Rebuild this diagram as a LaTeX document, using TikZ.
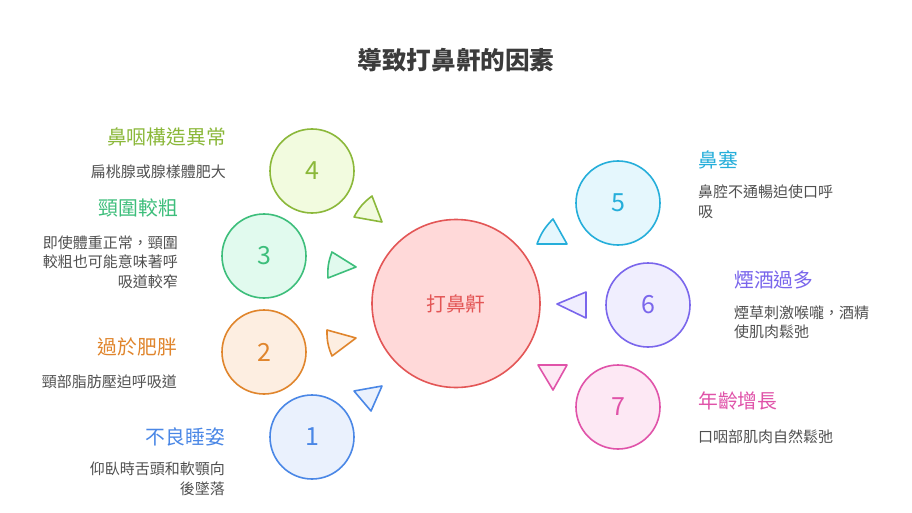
\documentclass[tikz,border=0pt]{standalone}
\usepackage{fontspec}
\setmainfont{Noto Sans CJK TC}
\usepackage{xcolor}
\definecolor{ink}{HTML}{3B3B3B}
\definecolor{textgray}{HTML}{505050}
\definecolor{hubline}{HTML}{E35656}
\definecolor{hubbg}{HTML}{FFD9D9}
\definecolor{blueline}{HTML}{4A87E6}
\definecolor{bluebg}{HTML}{EAF1FD}
\definecolor{orangeline}{HTML}{E0852C}
\definecolor{orangebg}{HTML}{FDEEE1}
\definecolor{greenline}{HTML}{3DBE7B}
\definecolor{greenbg}{HTML}{E1FAEE}
\definecolor{limeline}{HTML}{8BB83A}
\definecolor{limebg}{HTML}{F2FBDF}
\definecolor{cyanline}{HTML}{25AEDA}
\definecolor{cyanbg}{HTML}{E5F7FD}
\definecolor{purpleline}{HTML}{7A66EC}
\definecolor{purplebg}{HTML}{F0EEFE}
\definecolor{pinkline}{HTML}{E053A9}
\definecolor{pinkbg}{HTML}{FDE8F4}
\tikzset{
  ball/.style={circle, inner sep=0pt, minimum size=84pt, line width=1.6pt,
    font=\fontsize{25}{25}\selectfont},
  head/.style={font=\fontsize{19.8}{22}\selectfont, inner sep=0pt},
  desc/.style={font=\fontsize{15}{19.5}\selectfont, text=textgray, inner sep=0pt},
  tri/.style={line width=1.6pt, line join=round}
}
\begin{document}
\begin{tikzpicture}[x=1pt,y=-1pt]
  \fill[white] (0,0) rectangle (912,513);
  \useasboundingbox (0,0) rectangle (912,513);
  \node[font=\bfseries\fontsize{24.6}{25}\selectfont, text=ink] (title) at (456,60) {導致打鼻鼾的因素};

  \node[circle, inner sep=0pt, minimum size=168pt, line width=1.6pt, draw=hubline, fill=hubbg,
    text=hubline, font=\fontsize{19.8}{20}\selectfont] (hub) at (456,303.5) {打鼻鼾};

  \node[ball, draw=limeline, fill=limebg, text=limeline] (c4) at (312,171) {4};
  \node[ball, draw=greenline, fill=greenbg, text=greenline] (c3) at (264,256) {3};
  \node[ball, draw=orangeline, fill=orangebg, text=orangeline] (c2) at (264,352) {2};
  \node[ball, draw=blueline, fill=bluebg, text=blueline] (c1) at (312,437) {1};
  \node[ball, draw=cyanline, fill=cyanbg, text=cyanline] (c5) at (618,203) {5};
  \node[ball, draw=purpleline, fill=purplebg, text=purpleline] (c6) at (648,305) {6};
  \node[ball, draw=pinkline, fill=pinkbg, text=pinkline] (c7) at (618,407) {7};

  \draw[tri, draw=limeline, fill=limebg] (372,196) to[bend right=12] (354,217) -- (382,222) -- cycle;
  \draw[tri, draw=greenline, fill=greenbg] (332,252) -- (356,267) -- (328,278) to[bend left=12] cycle;
  \draw[tri, draw=orangeline, fill=orangebg] (327,330) -- (356,338) -- (332,356) to[bend left=12] cycle;
  \draw[tri, draw=blueline, fill=bluebg] (354,391) -- (382,386) -- (371,411) -- cycle;
  \draw[tri, draw=cyanline, fill=cyanbg] (553,219) -- (567,244) -- (537,244) to[bend left=12] cycle;
  \draw[tri, draw=purpleline, fill=purplebg] (557,304) -- (586,292) -- (586,318) -- cycle;
  \draw[tri, draw=pinkline, fill=pinkbg] (538,365) -- (567,365) -- (553,390) -- cycle;

  \node[head, anchor=east, text=limeline] (lab4) at (226,137) {鼻咽構造異常};
  \node[desc, anchor=east] (desc4) at (226,172) {扁桃腺或腺樣體肥大};
  \node[head, anchor=east, text=greenline] (lab3) at (178,208) {頸圍較粗};
  \node[desc, anchor=east, align=right] (desc3) at (178,262) {即使體重正常，頸圍\\較粗也可能意味著呼\\吸道較窄};
  \node[head, anchor=east, text=orangeline] (lab2) at (177,347) {過於肥胖};
  \node[desc, anchor=east] (desc2) at (177,382) {頸部脂肪壓迫呼吸道};
  \node[head, anchor=east, text=blueline] (lab1) at (225,437) {不良睡姿};
  \node[desc, anchor=east, align=right] (desc1) at (225,479) {仰臥時舌頭和軟顎向\\後墜落};

  \node[head, anchor=west, text=cyanline] (lab5) at (698,160) {鼻塞};
  \node[desc, anchor=west, align=left] (desc5) at (698,202) {鼻腔不通暢迫使口呼\\吸};
  \node[head, anchor=west, text=purpleline] (lab6) at (734,280) {煙酒過多};
  \node[desc, anchor=west, align=left] (desc6) at (734,322.5) {煙草刺激喉嚨，酒精\\使肌肉鬆弛};
  \node[head, anchor=west, text=pinkline] (lab7) at (698,401) {年齡增長};
  \node[desc, anchor=west] (desc7) at (698,437) {口咽部肌肉自然鬆弛};
\end{tikzpicture}
\end{document}
